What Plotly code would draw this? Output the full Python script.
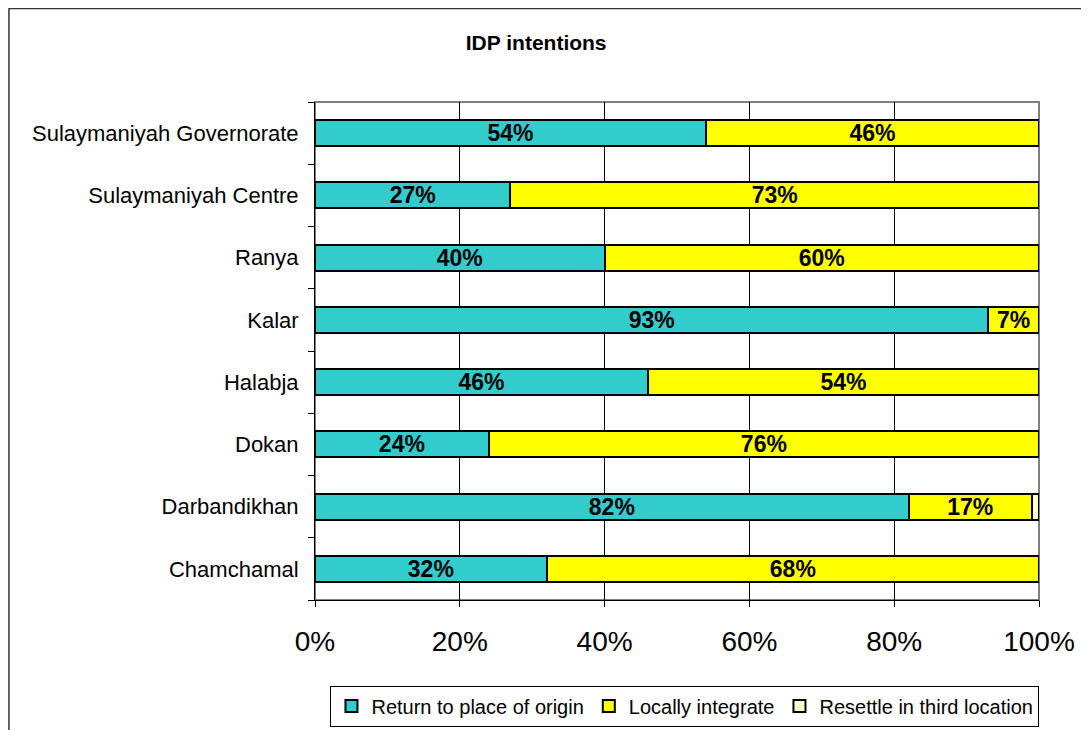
import plotly.graph_objects as go

districts = [
    "Chamchamal",
    "Darbandikhan",
    "Dokan",
    "Halabja",
    "Kalar",
    "Ranya",
    "Sulaymaniyah Centre",
    "Sulaymaniyah Governorate",
]
return_origin = [32, 82, 24, 46, 93, 40, 27, 54]
locally_integrate = [68, 17, 76, 54, 7, 60, 73, 46]
resettle_third = [0, 1, 0, 0, 0, 0, 0, 0]

x_ticks = [0, 20, 40, 60, 80, 100]
x_tick_labels = ["0%", "20%", "40%", "60%", "80%", "100%"]

series = [
    ("Return to place of origin", return_origin, "#33CCCC", True),
    ("Locally integrate", locally_integrate, "#FFFF00", True),
    ("Resettle in third location", resettle_third, "#FFFFCC", False),
]

FONT = "Arial, Liberation Sans, sans-serif"

fig = go.Figure()
for name, vals, color, labelled in series:
    fig.add_trace(
        go.Bar(
            y=districts,
            x=vals,
            name=name,
            orientation="h",
            marker={"color": color, "line": {"color": "black", "width": 2}},
            text=[f"{v}%" for v in vals] if labelled else None,
            textposition="inside" if labelled else "none",
            insidetextanchor="middle",
            textfont={"family": FONT, "size": 23, "color": "black", "weight": "bold"},
            hoverinfo="x+y+name",
        )
    )

# plot-area border (grey) and the outer chart frame
shapes = [
    dict(type="rect", xref="paper", yref="paper", x0=0, y0=0, x1=1, y1=1,
         line={"color": "#808080", "width": 2}, layer="below"),
    dict(type="rect", xref="paper", yref="paper", x0=-0.4227, y0=-0.3, x1=1.0677, y1=1.188,
         line={"color": "#333333", "width": 1.5}, layer="below"),
]

fig.update_layout(
    barmode="stack",
    bargap=0.58,
    width=1089,
    height=730,
    margin={"l": 307, "r": 58, "t": 94, "b": 138},
    paper_bgcolor="white",
    plot_bgcolor="white",
    font={"family": FONT, "color": "black"},
    title={
        "text": "<b>IDP intentions</b>",
        "x": 0.485,
        "xanchor": "center",
        "y": 0.952,
        "yanchor": "middle",
        "font": {"size": 21, "family": FONT},
    },
    showlegend=True,
    legend={
        "orientation": "h",
        "x": 0.511,
        "xanchor": "center",
        "y": -0.213,
        "yanchor": "middle",
        "bordercolor": "black",
        "borderwidth": 1,
        "font": {"size": 20, "family": FONT},
        "traceorder": "normal",
        "itemwidth": 30,
    },
    uniformtext={"mode": "show", "minsize": 23},
    shapes=shapes,
)

fig.update_xaxes(
    range=[0, 100],
    tickvals=x_ticks,
    ticktext=x_tick_labels,
    tickfont={"size": 28},
    showgrid=True,
    gridcolor="black",
    gridwidth=1,
    showline=True,
    linecolor="black",
    linewidth=1,
    ticks="outside",
    ticklen=6,
    tickcolor="black",
    ticklabelstandoff=10,
    zeroline=False,
    fixedrange=True,
)
fig.update_yaxes(
    categoryorder="array",
    categoryarray=districts,
    tickfont={"size": 22},
    showline=True,
    linecolor="black",
    linewidth=1,
    ticks="outside",
    tickson="boundaries",
    ticklen=6,
    tickcolor="black",
    ticklabelstandoff=11,
    showgrid=False,
    fixedrange=True,
)

fig.write_html("out.html")
